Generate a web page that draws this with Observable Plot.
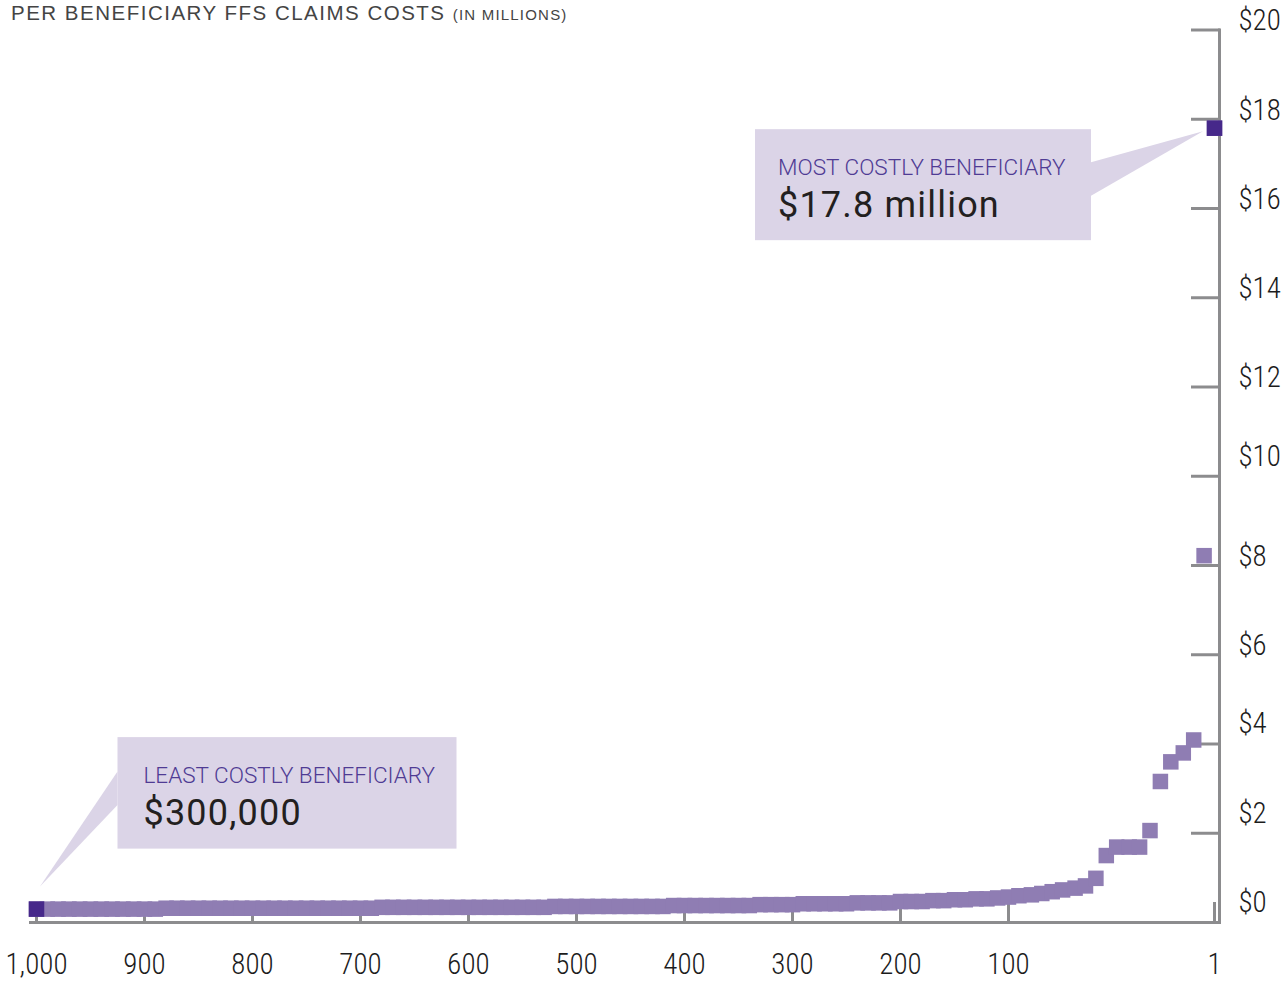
<!DOCTYPE html>
<html>
<head>
<meta charset="utf-8">
<script src="https://cdn.jsdelivr.net/npm/d3@7"></script>
<script src="https://cdn.jsdelivr.net/npm/@observablehq/plot@0.6"></script>
<style>
  body { margin: 0; background: #fff; }
  #chart svg { display: block; }
  #chart svg g[aria-label="x-axis tick label"] text,
  #chart svg g[aria-label="y-axis tick label"] text { font-stretch: 75%; }
</style>
</head>
<body>
<div id="chart"></div>
<script>
// ---- Data ----
const titleText = "PER BENEFICIARY FFS CLAIMS COSTS";
const titleUnit = "(IN MILLIONS)";

// Beneficiary rank (1 = most costly) and FFS claims cost in $ millions
const rank = [
  1000, 990, 980, 970, 960, 950, 940, 930, 920, 910, 900, 890,
  880, 870, 860, 850, 840, 830, 820, 810, 800, 790, 780, 770, 760, 750, 740, 730, 720, 710, 700, 690,
  680, 670, 660, 650, 640, 630, 620, 610, 600, 590, 580, 570, 560, 550, 540, 530,
  520, 510, 500, 490, 480, 470, 460, 450, 440, 430, 420,
  410, 400, 390, 380, 370, 360, 350, 340,
  330, 320, 310, 300,
  290, 280, 270, 260, 250,
  240, 230, 220, 210,
  200, 190, 180,
  170, 160,
  150, 140,
  130, 120,
  110,
  100,
  95, 89, 84, 79, 74, 68, 63, 58, 53, 48, 42, 37, 32, 27, 22, 16, 11, 6, 1
];
const cost = [
  0.30, 0.30, 0.30, 0.30, 0.30, 0.30, 0.30, 0.30, 0.30, 0.30, 0.30, 0.30,
  0.32, 0.32, 0.32, 0.32, 0.32, 0.32, 0.32, 0.32, 0.32, 0.32, 0.32, 0.32, 0.32, 0.32, 0.32, 0.32, 0.32, 0.32, 0.32, 0.32,
  0.34, 0.34, 0.34, 0.34, 0.34, 0.34, 0.34, 0.34, 0.34, 0.34, 0.34, 0.34, 0.34, 0.34, 0.34, 0.34,
  0.36, 0.36, 0.36, 0.36, 0.36, 0.36, 0.36, 0.36, 0.36, 0.36, 0.36,
  0.38, 0.38, 0.38, 0.38, 0.38, 0.38, 0.38, 0.38,
  0.40, 0.40, 0.40, 0.40,
  0.42, 0.42, 0.42, 0.42, 0.42,
  0.44, 0.44, 0.44, 0.44,
  0.47, 0.47, 0.47,
  0.49, 0.49,
  0.51, 0.51,
  0.53, 0.53,
  0.55,
  0.57,
  0.60, 0.62, 0.65, 0.69, 0.73, 0.77, 0.82, 0.99, 1.50, 1.69, 1.69, 1.69, 2.06, 3.16, 3.60, 3.80, 4.09, 8.22, 17.8
];
const highlightRanks = [1, 1000];

const xTicks = [1000, 900, 800, 700, 600, 500, 400, 300, 200, 100, 1];
const yTickMarks = [2, 4, 6, 8, 10, 12, 14, 16, 18, 20];
const yLabelsUpper = [20, 18, 16, 14, 12, 8, 6];
const yLabelsLower = [10, 4, 2, 0];

const callouts = [
  {rank: 1, cost: 17.8, heading: "MOST COSTLY BENEFICIARY", value: "$17.8 million"},
  {rank: 1000, cost: 0.30, heading: "LEAST COSTLY BENEFICIARY", value: "$300,000"}
];

// ---- Styles ----
const light = "#8f7db3";
const dark = "#46288a";
const axisGray = "#8c8c8e";
const boxFill = "#dbd4e7";
const headingColor = "#4f3b94";
const valueColor = "#231f20";
const labelColor = "#1c1c1c";
const sans = "Roboto, 'Helvetica Neue', 'Liberation Sans', sans-serif";
const tickFont = {fill: labelColor, fontSize: 29, fontFamily: "Roboto", fontWeight: 350};

const data = rank.map((r, i) => ({rank: r, cost: cost[i]}));
const highlighted = data.filter(d => highlightRanks.includes(d.rank));

const chart = Plot.plot({
  width: 1285,
  height: 982,
  marginLeft: 30,
  marginRight: 66,
  marginTop: 29.5,
  marginBottom: 60,
  style: {background: "#fff", overflow: "visible"},
  x: {type: "linear", domain: [1000, 100, 1], range: [36, 1008, 1214]},
  y: {type: "linear", domain: [0, 20], range: [922, 29.5]},
  marks: [
    Plot.axisX(xTicks, {anchor: "bottom", label: null, tickSize: -20, tickFormat: () => "", stroke: axisGray, strokeWidth: 3}),
    Plot.axisY(yTickMarks, {anchor: "right", label: null, tickSize: -29, tickFormat: () => "", stroke: axisGray, strokeWidth: 3}),
    Plot.frame({anchor: "bottom", stroke: axisGray, strokeWidth: 3}),
    Plot.frame({anchor: "right", stroke: axisGray, strokeWidth: 3}),
    Plot.axisX(xTicks, {anchor: "bottom", label: null, tickSize: 0, tickPadding: 31, tickFormat: d3.format(","), ...tickFont}),
    Plot.axisY(yLabelsUpper, {anchor: "right", label: null, tickSize: 0, tickPadding: 19, dy: -9, textAnchor: "start",
      tickFormat: d => "$" + d, ...tickFont}),
    Plot.axisY(yLabelsLower, {anchor: "right", label: null, tickSize: 0, tickPadding: 19, dy: -20, textAnchor: "start",
      tickFormat: d => "$" + d, ...tickFont}),
    Plot.dot(data, {x: "rank", y: "cost", symbol: "square", r: 8.75, fill: light, stroke: null}),
    Plot.dot(highlighted, {x: "rank", y: "cost", symbol: "square", r: 8.75, fill: dark, stroke: null})
  ]
});

document.getElementById("chart").appendChild(chart);

// ---- Title and callouts (positioned from the scales) ----
const svg = d3.select(chart);
const xs = chart.scale("x"), ys = chart.scale("y");

const title = svg.append("text")
  .attr("x", 11).attr("y", 19.5)
  .attr("text-anchor", "start")
  .attr("font-family", "'Liberation Sans', Arial, sans-serif")
  .attr("fill", "#444").attr("font-size", 20.5)
  .attr("letter-spacing", 1.5)
  .text(titleText + " ");
title.append("tspan").attr("font-size", 15).attr("letter-spacing", 1.2).text(titleUnit);

const layer = svg.insert("g", ":first-child").attr("text-anchor", "start");
callouts.forEach((c, i) => {
  const px = xs.apply(c.rank), py = ys.apply(c.cost);
  let box, tri;
  if (i === 0) {
    box = {x: px - 459, y: py + 1.5, w: 336, h: 111};
    tri = [[box.x + box.w, py + 34.5], [px - 11, py + 3.5], [box.x + box.w, py + 68]];
  } else {
    box = {x: px + 81.5, y: py - 171.5, w: 339, h: 111.5};
    tri = [[box.x, py - 137], [px + 4, py - 22], [box.x, py - 103.5]];
  }
  layer.append("polygon").attr("points", tri.map(p => p.join(",")).join(" ")).attr("fill", boxFill);
  layer.append("rect").attr("x", box.x).attr("y", box.y).attr("width", box.w).attr("height", box.h).attr("fill", boxFill);
  const tx = box.x + (i === 0 ? 23 : 26);
  layer.append("text").attr("x", tx).attr("y", box.y + 45.5)
    .attr("font-family", sans).attr("font-weight", 300).attr("font-size", 22.5)
    .attr("fill", headingColor).text(c.heading);
  layer.append("text").attr("x", tx).attr("y", box.y + 88)
    .attr("font-family", sans).attr("font-weight", 400).attr("font-size", 36)
    .attr("letter-spacing", 1.2)
    .attr("fill", valueColor).text(c.value);
});
</script>
</body>
</html>
